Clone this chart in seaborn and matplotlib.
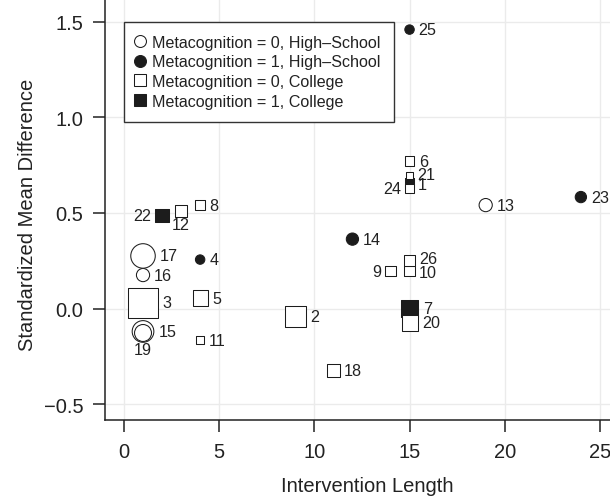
import numpy as np
import pandas as pd
import matplotlib
matplotlib.use("Agg")
import matplotlib.pyplot as plt
from matplotlib.lines import Line2D
import seaborn as sns

# Studies (x = intervention length, y = SMD)
study = [1, 2, 3, 4, 5, 6, 7, 8, 9, 10, 11, 12, 13,
         14, 15, 16, 17, 18, 19, 20, 21, 22, 23, 24, 25, 26]
length = [15, 9, 1, 4, 4, 15, 15, 4, 14, 15, 4, 3, 19,
          12, 1, 1, 1, 11, 1, 15, 15, 2, 24, 15, 15, 15]
smd = [0.659, -0.042, 0.029, 0.256, 0.055, 0.771, 0.0, 0.541, 0.196, 0.196, -0.165, 0.51, 0.541,
       0.363, -0.12, 0.175, 0.275, -0.324, -0.128, -0.074, 0.696, 0.486, 0.583, 0.628, 1.459, 0.251]
weight = [0.81, 4.84, 9.61, 1.00, 2.56, 1.00, 3.61, 1.10, 1.21, 1.21, 0.64, 1.44, 1.96,
          1.69, 5.29, 1.96, 6.76, 1.69, 3.24, 2.89, 0.49, 1.96, 1.44, 0.81, 1.00, 1.21]
metacognition = [1, 0, 0, 1, 0, 0, 1, 0, 0, 0, 0, 0, 0,
                 1, 0, 0, 0, 0, 0, 0, 0, 1, 1, 0, 1, 0]
level = ["College", "College", "College", "High–School", "College", "College", "College",
         "College", "College", "College", "College", "College", "High–School",
         "High–School", "High–School", "High–School", "High–School", "College", "High–School",
         "College", "College", "College", "High–School", "College", "High–School", "College"]

group_order = ["Metacognition = 0, High–School", "Metacognition = 1, High–School",
               "Metacognition = 0, College", "Metacognition = 1, College"]
x_ticks = [0, 5, 10, 15, 20, 25]
y_ticks = [-0.5, 0.0, 0.5, 1.0, 1.5]

# where the study number sits relative to its symbol (default: right)
label_side = {9: "left", 12: "below", 19: "below", 22: "left", 24: "left"}
# small vertical nudges (points) for crowded labels
label_nudge = {21: 1.0, 1: -1.5, 26: 1.5, 10: -1.0}

df = pd.DataFrame({"study": study, "length": length, "smd": smd, "weight": weight,
                   "meta": metacognition, "level": level})
df["group"] = [f"Metacognition = {m}, {l}" for m, l in zip(df["meta"], df["level"])]

ink = "#1c1c1c"
fills = {g: ("white" if "= 0" in g else ink) for g in group_order}
markers = {g: ("o" if "High" in g else "s") for g in group_order}
area_per_weight = 46.0
w_max = max(weight)

sns.set_style("white")
plt.rcParams["font.family"] = ["Liberation Sans", "DejaVu Sans"]
plt.rcParams["text.color"] = "#222222"

fig = plt.figure(figsize=(6.1, 5.02), dpi=100)
ax = fig.add_axes([0.1721, 0.1614, 0.8279, 0.8386])

sns.scatterplot(data=df, x="length", y="smd", hue="group", style="group", size="weight",
                hue_order=group_order, style_order=group_order, palette=fills, markers=markers,
                sizes=(0, area_per_weight * w_max), size_norm=(0, w_max),
                edgecolor=ink, linewidth=0.75, legend=False, ax=ax, zorder=3)

# study number labels
for _, r in df.iterrows():
    half = np.sqrt(area_per_weight * r["weight"]) / 2
    side = label_side.get(r["study"], "right")
    dy = label_nudge.get(r["study"], 0)
    if side == "right":
        off, ha, va = (half + 3.2, dy), "left", "center"
    elif side == "left":
        off, ha, va = (-half - 3.2, dy), "right", "center"
    else:
        off, ha, va = (0, -half - 0.5), "center", "top"
    ax.annotate(str(r["study"]), (r["length"], r["smd"]), xytext=off,
                textcoords="offset points", ha=ha, va=va, fontsize=11.6,
                color="#222222", zorder=4)

ax.set_xlim(-0.998, 25.53)
ax.set_ylim(-0.583, 1.619)
ax.set_xticks(x_ticks)
ax.set_yticks(y_ticks)
ax.set_yticklabels([f"{v:.1f}".replace("-", "\u2212") for v in y_ticks])
ax.grid(True, color="#ebebeb", linewidth=1.0)
ax.set_axisbelow(True)

for s in ["top", "right"]:
    ax.spines[s].set_visible(False)
for s in ["left", "bottom"]:
    ax.spines[s].set_color("#222222")
    ax.spines[s].set_linewidth(1.1)
ax.tick_params(direction="out", length=8.6, width=1.1, pad=7, labelsize=14.5,
               colors="#222222", left=True, bottom=True)

ax.set_xlabel("Intervention Length", fontsize=14.5, color="#222222")
ax.set_ylabel("Standardized Mean Difference", fontsize=14.5, color="#222222")
ax.xaxis.set_label_coords(0.519, -0.133)
ax.yaxis.set_label_coords(-0.1347, 0.489)

handles = [Line2D([], [], ls="none", marker=markers[g], markersize=8.6,
                  markerfacecolor=fills[g], markeredgecolor=ink, markeredgewidth=0.75,
                  label=g) for g in group_order]
leg = ax.legend(handles=handles, loc="upper left", bbox_to_anchor=(0.0376, 0.946),
                borderaxespad=0, fancybox=False, framealpha=1, edgecolor="#333333",
                fontsize=11.6, borderpad=0.8, handlelength=0.45, handletextpad=0.5,
                labelspacing=0.29)
leg.get_frame().set_linewidth(1.0)

fig.savefig("out.png", dpi=100)
